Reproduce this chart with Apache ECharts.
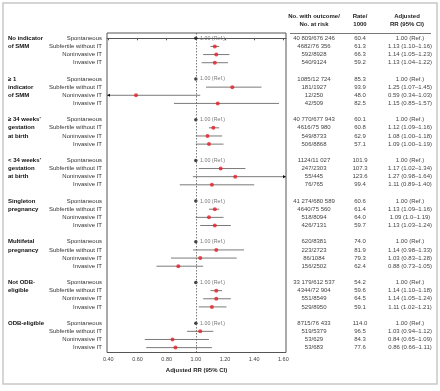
<!DOCTYPE html>
<html>
<head>
<meta charset="utf-8">
<script src="https://cdn.jsdelivr.net/npm/echarts@6/dist/echarts.min.js"></script>
<style>
html, body { margin: 0; padding: 0; background: #fff; }
#chart { width: 440px; height: 391px; }
</style>
</head>
<body>
<div id="chart"></div>
<script>
// subgroups (left, bold) and exposure rows
var groups = ['No indicator\nof SMM', '\u2265 1\nindicator\nof SMM', '\u2265 34 weeks\u2019\ngestation\nat birth', '< 34 weeks\u2019\ngestation\nat birth', 'Singleton\npregnancy', 'Multifetal\npregnancy', 'Not ODB-\neligible', 'ODB-eligible'];
var types = ['Spontaneous', 'Subfertile without IT', 'Noninvasive IT', 'Invasive IT'];

// table columns, 4 rows per group
var outcomes = [
    '40 809/676 246', '4682/76 356', '592/8928', '540/9124',
    '1085/12 724', '181/1927', '12/250', '42/509',
    '40 770/677 943', '4616/75 980', '549/8733', '506/8868',
    '1124/11 027', '247/2303', '55/445', '76/765',
    '41 274/680 589', '4640/75 560', '518/8094', '426/7131',
    '620/8381', '223/2723', '86/1084', '156/2502',
    '33 179/612 537', '4344/72 904', '551/8549', '529/8950',
    '8715/76 433', '519/5379', '53/629', '53/683'
];
var rates = [
    '60.4', '61.3', '66.3', '59.2',
    '85.3', '93.9', '48.0', '82.5',
    '60.1', '60.8', '62.9', '57.1',
    '101.9', '107.3', '123.6', '99.4',
    '60.6', '61.4', '64.0', '59.7',
    '74.0', '81.9', '79.3', '62.4',
    '54.2', '59.6', '64.5', '59.1',
    '114.0', '96.5', '84.3', '77.6'
];
var rrLabels = [
    '1.00 (Ref.)', '1.13 (1.10\u20131.16)', '1.14 (1.05\u20131.23)', '1.13 (1.04\u20131.22)',
    '1.00 (Ref.)', '1.25 (1.07\u20131.45)', '0.59 (0.34\u20131.03)', '1.15 (0.85\u20131.57)',
    '1.00 (Ref.)', '1.12 (1.09\u20131.16)', '1.08 (1.00\u20131.18)', '1.09 (1.00\u20131.19)',
    '1.00 (Ref.)', '1.17 (1.02\u20131.34)', '1.27 (0.98\u20131.64)', '1.11 (0.89\u20131.40)',
    '1.00 (Ref.)', '1.13 (1.09\u20131.16)', '1.09 (1.0\u20131.19)', '1.13 (1.03\u20131.24)',
    '1.00 (Ref.)', '1.14 (0.98\u20131.33)', '1.03 (0.83\u20131.28)', '0.88 (0.73\u20131.05)',
    '1.00 (Ref.)', '1.14 (1.10\u20131.18)', '1.14 (1.05\u20131.24)', '1.11 (1.02\u20131.21)',
    '1.00 (Ref.)', '1.03 (0.94\u20131.12)', '0.84 (0.65\u20131.09)', '0.86 (0.66\u20131.11)'
];

// adjusted RR and 95% CI (spontaneous = reference)
var rr    = [1, 1.13, 1.14, 1.13, 1, 1.25, 0.59, 1.15, 1, 1.12, 1.08, 1.09, 1, 1.17, 1.27, 1.11, 1, 1.13, 1.09, 1.13, 1, 1.14, 1.03, 0.88, 1, 1.14, 1.14, 1.11, 1, 1.03, 0.84, 0.86];
var lower = [1, 1.10, 1.05, 1.04, 1, 1.07, 0.34, 0.85, 1, 1.09, 1.00, 1.00, 1, 1.02, 0.98, 0.89, 1, 1.09, 1.0, 1.03, 1, 0.98, 0.83, 0.73, 1, 1.10, 1.05, 1.02, 1, 0.94, 0.65, 0.66];
var upper = [1, 1.16, 1.23, 1.22, 1, 1.45, 1.03, 1.57, 1, 1.16, 1.18, 1.19, 1, 1.34, 1.64, 1.40, 1, 1.16, 1.19, 1.24, 1, 1.33, 1.28, 1.05, 1, 1.18, 1.24, 1.21, 1, 1.12, 1.09, 1.11];

var xTicks = [0.4, 0.6, 0.8, 1.0, 1.2, 1.4, 1.6];
var xMin = 0.391, xMax = 1.618;

// row index on the y axis: 5 slots per group (4 rows + gap)
function rowOf(k) { return Math.floor(k / 4) * 5 + (k % 4); }

var rowText = {}, groupText = {}, col1 = {}, col2 = {}, col3 = {};
var rows = [];
for (var k = 0; k < outcomes.length; k++) {
    var r = rowOf(k);
    rows.push(r);
    rowText[r] = types[k % 4];
    col1[r] = outcomes[k];
    col2[r] = rates[k];
    col3[r] = rrLabels[k];
}
var groupRows = [];
groups.forEach(function (g, gi) {
    g.split('\n').forEach(function (line, li) {
        groupText[gi * 5 + li] = line;
        groupRows.push(gi * 5 + li);
    });
});

var refPts = [], estPts = [], ciData = [];
for (var k = 0; k < rr.length; k++) {
    if (k % 4 === 0) {
        refPts.push([rr[k], rowOf(k)]);
    } else {
        estPts.push([rr[k], rowOf(k)]);
        ciData.push([lower[k], upper[k], rowOf(k)]);
    }
}

var FONT = '"Liberation Sans", Arial, sans-serif';

function colAxis(map, margin) {
    return {
        type: 'value', position: 'right', inverse: true, min: -0.65, max: 38.6,
        axisLine: { show: false }, axisTick: { show: false }, splitLine: { show: false },
        axisLabel: {
            customValues: rows, margin: margin, align: 'center',
            fontSize: 6, fontFamily: FONT, color: '#444',
            formatter: function (v) { return map[Math.round(v)] || ''; }
        }
    };
}

var myChart = echarts.init(document.getElementById('chart'));
myChart.setOption({
    backgroundColor: '#fff',
    animation: false,
    grid: {
        left: 107, right: 154, top: 33, bottom: 38.5,
        show: true, borderColor: '#555', borderWidth: 1
    },
    xAxis: {
        type: 'value', min: xMin, max: xMax,
        name: 'Adjusted RR (95% CI)', nameLocation: 'middle', nameGap: 14,
        nameTextStyle: { fontSize: 6, fontWeight: 'bold', fontFamily: FONT, color: '#222' },
        axisLine: { show: true, lineStyle: { color: '#555', width: 1 } },
        axisTick: { show: true, length: 2, customValues: xTicks, lineStyle: { color: '#555' } },
        axisLabel: {
            customValues: xTicks, margin: 4, fontSize: 5.5, fontFamily: FONT, color: '#444',
            formatter: function (v) { return v.toFixed(2); }
        },
        splitLine: { show: false }
    },
    yAxis: [
        {
            type: 'value', position: 'left', inverse: true, min: -0.65, max: 38.6,
            axisLine: { show: false }, axisTick: { show: false }, splitLine: { show: false },
            axisLabel: {
                customValues: rows, margin: 5, fontSize: 6, fontFamily: FONT, color: '#333',
                formatter: function (v) { return rowText[Math.round(v)] || ''; }
            }
        },
        {
            type: 'value', position: 'left', inverse: true, min: -0.65, max: 38.6,
            axisLine: { show: false }, axisTick: { show: false }, splitLine: { show: false },
            axisLabel: {
                customValues: groupRows, margin: 99, align: 'left',
                fontSize: 6, fontWeight: 'bold', fontFamily: FONT, color: '#111',
                formatter: function (v) { return groupText[Math.round(v)] || ''; }
            }
        },
        colAxis(col1, 28),
        colAxis(col2, 74),
        colAxis(col3, 124)
    ],
    graphic: [
        { type: 'rect', shape: { x: 3, y: 3, width: 434, height: 381 }, style: { fill: 'none', stroke: '#c8c8c8', lineWidth: 1.5 } },
        { type: 'line', shape: { x1: 290, y1: 33.5, x2: 431, y2: 33.5 }, style: { stroke: '#555', lineWidth: 0.8 } },
        { type: 'text', x: 314, y: 20.5, style: { text: 'No. with outcome/\nNo. at risk', align: 'center', verticalAlign: 'middle', lineHeight: 7.6, font: 'bold 6px ' + FONT, fill: '#222' } },
        { type: 'text', x: 360, y: 20.5, style: { text: 'Rate/\n1000', align: 'center', verticalAlign: 'middle', lineHeight: 7.6, font: 'bold 6px ' + FONT, fill: '#222' } },
        { type: 'text', x: 407, y: 20.5, style: { text: 'Adjusted\nRR (95% CI)', align: 'center', verticalAlign: 'middle', lineHeight: 7.6, font: 'bold 6px ' + FONT, fill: '#222' } }
    ],
    series: [
        {
            type: 'custom',
            yAxisIndex: 0,
            data: ciData,
            renderItem: function (params, api) {
                var lo = api.value(0), hi = api.value(1), row = api.value(2);
                var a = api.coord([Math.max(lo, xMin), row]);
                var b = api.coord([Math.min(hi, xMax), row]);
                var children = [{
                    type: 'line',
                    shape: { x1: a[0], y1: a[1], x2: b[0], y2: b[1] },
                    style: { stroke: '#7a7a7a', lineWidth: 1 }
                }];
                if (lo < xMin) {
                    children.push({ type: 'polygon', shape: { points: [[a[0], a[1]], [a[0] + 3, a[1] - 1.6], [a[0] + 3, a[1] + 1.6]] }, style: { fill: '#111' } });
                }
                if (hi > xMax) {
                    children.push({ type: 'polygon', shape: { points: [[b[0], b[1]], [b[0] - 3, b[1] - 1.6], [b[0] - 3, b[1] + 1.6]] }, style: { fill: '#111' } });
                }
                return { type: 'group', children: children };
            },
            markLine: {
                silent: true, symbol: 'none', label: { show: false },
                lineStyle: { color: '#555', width: 0.8, type: [1.5, 1.5] },
                data: [{ xAxis: 1 }]
            },
            z: 2
        },
        {
            type: 'scatter',
            yAxisIndex: 0,
            data: estPts,
            symbol: 'circle', symbolSize: 4,
            itemStyle: { color: '#e41e26' },
            z: 3
        },
        {
            type: 'scatter',
            yAxisIndex: 0,
            data: refPts,
            symbol: 'circle', symbolSize: 3.5,
            itemStyle: { color: '#111' },
            label: {
                show: true, position: 'right', distance: 2.5,
                formatter: '1.00 (Ref.)', fontSize: 5.3, fontFamily: FONT, color: '#555'
            },
            z: 3
        }
    ]
});
</script>
</body>
</html>
